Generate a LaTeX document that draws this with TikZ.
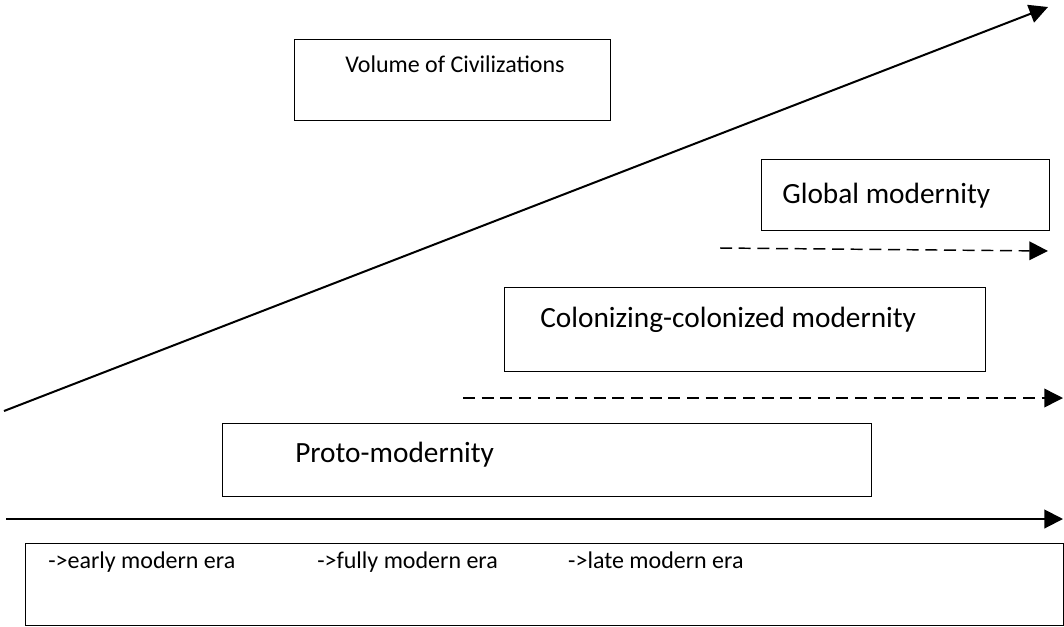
\documentclass[tikz,border=0pt]{standalone}
\usepackage{fontspec}
\setmainfont{Carlito}
\usetikzlibrary{arrows.meta}

\begin{document}
\begin{tikzpicture}[x=0.75pt,y=-0.75pt,>={Triangle[length=14pt,width=14pt]},
    era box/.style={draw,line width=1.1pt,anchor=north west,inner sep=0pt},
    big label/.style={anchor=base west,inner sep=0pt,font=\fontsize{22}{26}\selectfont},
    small label/.style={anchor=base west,inner sep=0pt,font=\fontsize{18}{22}\selectfont},
    time line/.style={->,line width=1.5pt},
    phase line/.style={->,line width=1.1pt,dash pattern=on 9pt off 5pt}]

    \useasboundingbox (0,0) rectangle (1064,626);

    % boxes
    \node[era box,minimum width=237pt,minimum height=60.75pt] (volume) at (294,39) {};
    \node[era box,minimum width=216pt,minimum height=53.25pt] (global) at (761,159) {};
    \node[era box,minimum width=360.75pt,minimum height=63pt] (colon) at (504,287) {};
    \node[era box,minimum width=486.75pt,minimum height=54.75pt] (proto) at (222,423) {};
    \node[era box,minimum width=778.5pt,minimum height=61.5pt] (eras) at (25,543) {};

    % texts
    \node[small label] (volume text) at (345,72) {Volume of Civilizations};
    \node[big label] (global text) at (782,203) {Global modernity};
    \node[big label] (colon text) at (540,327) {Colonizing-colonized modernity};
    \node[big label] (proto text) at (295,462) {Proto-modernity};
    \node[small label] (eras text) at (48,568) {\makebox[201.75pt][l]{->early modern era}\makebox[188.25pt][l]{->fully modern era}->late modern era};

    % arrows
    \coordinate (rise start) at (4,411);
    \coordinate (rise end) at (1048,7);
    \coordinate (time start) at (6,519);
    \coordinate (time end) at (1063,519);
    \coordinate (global start) at (720,248);
    \coordinate (global end) at (1048,251);
    \coordinate (colon start) at (463,398);
    \coordinate (colon end) at (1063,398);

    \draw[time line] (rise start) -- (rise end);
    \draw[time line] (time start) -- (time end);
    \draw[phase line] (global start) -- (global end);
    \draw[phase line] (colon start) -- (colon end);
\end{tikzpicture}
\end{document}
